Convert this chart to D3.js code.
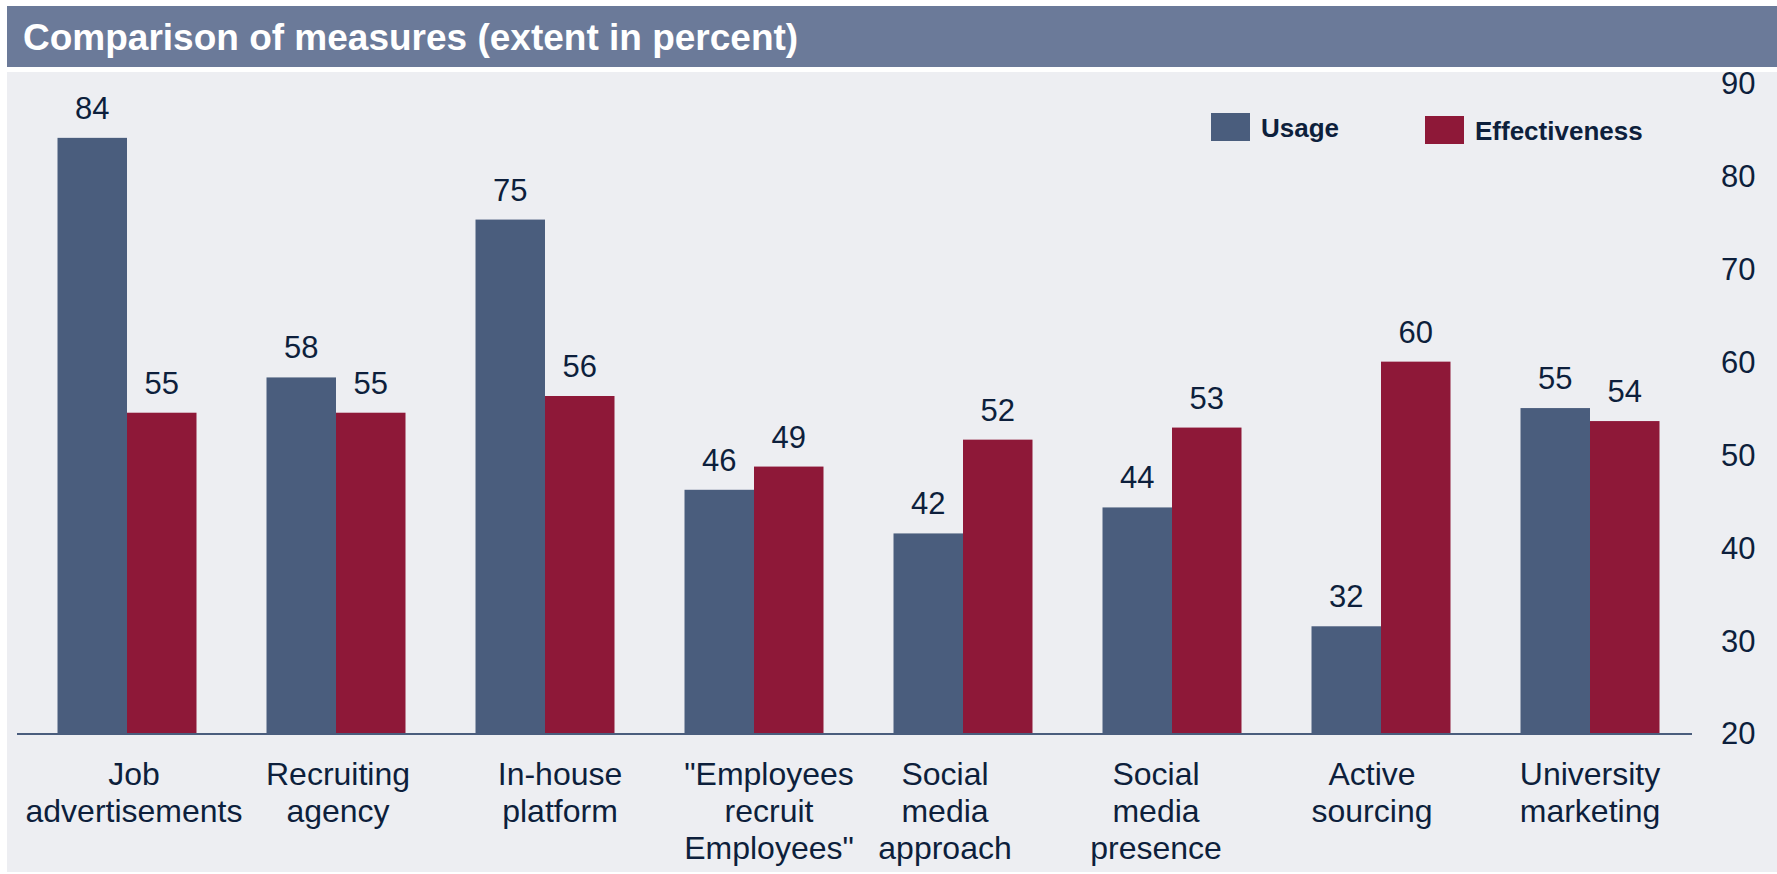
<!DOCTYPE html>
<html>
<head>
<meta charset="utf-8">
<script src="https://cdn.jsdelivr.net/npm/d3@7"></script>
<style>
  body { margin: 0; background: #fff; }
  svg text { font-family: "Liberation Sans", Arial, sans-serif; }
</style>
</head>
<body>
<div id="chart"></div>
<script>
// data
var categories = [
    ["Job", "advertisements"],
    ["Recruiting", "agency"],
    ["In-house", "platform"],
    ["\"Employees", "recruit", "Employees\""],
    ["Social", "media", "approach"],
    ["Social", "media", "presence"],
    ["Active", "sourcing"],
    ["University", "marketing"]
];
var usage = [84.2, 58.4, 75.4, 46.3, 41.6, 44.4, 31.6, 55.1];
var effectiveness = [54.6, 54.6, 56.4, 48.8, 51.7, 53.0, 60.1, 53.7];
var seriesNames = ["Usage", "Effectiveness"];
var yTicks = [20, 30, 40, 50, 60, 70, 80, 90];

// the category text boxes are not quite centred under their bars
var labelShift = [7, 2, 15, 15, -18, -16, -9, 0];

// size and colours
var w = 1777;
var h = 874;
var colors = { "Usage": "#4a5d7d", "Effectiveness": "#8e1838" };
var textColor = "#0d1f3c";

var svg = d3.select("#chart")
    .append("svg")
    .attr("width", w)
    .attr("height", h);

// title bar
svg.append("rect")
    .attr("x", 7).attr("y", 6)
    .attr("width", w - 7).attr("height", 61)
    .attr("fill", "#6b7a99");

svg.append("text")
    .attr("x", 23).attr("y", 50)
    .attr("fill", "#fff")
    .style("font-weight", "bold")
    .style("font-size", "37px")
    .text("Comparison of measures (extent in percent)");

// plot background
svg.append("rect")
    .attr("x", 7).attr("y", 72)
    .attr("width", w - 7).attr("height", h - 74)
    .attr("fill", "#edeef2");

// scales
var x0 = d3.scaleBand()
    .domain(d3.range(categories.length))
    .range([22.5, 1694.5])
    .paddingInner(0.335)
    .paddingOuter(0.1675);

var x1 = d3.scaleBand()
    .domain(seriesNames)
    .range([0, x0.bandwidth()]);

var y = d3.scaleLinear()
    .domain([20, 90])
    .range([734, 84]);

var rows = categories.map(function(c, i) {
    return { i: i, values: [
        { key: "Usage", value: usage[i] },
        { key: "Effectiveness", value: effectiveness[i] }
    ] };
});

// bars
var groups = svg.selectAll("g.group")
    .data(rows)
    .enter()
    .append("g")
    .attr("class", "group")
    .attr("transform", d => `translate(${x0(d.i)},0)`);

groups.selectAll("rect")
    .data(d => d.values)
    .enter()
    .append("rect")
    .attr("x", d => x1(d.key))
    .attr("y", d => y(d.value))
    .attr("width", x1.bandwidth())
    .attr("height", d => y(20) - y(d.value))
    .attr("fill", d => colors[d.key]);

// value labels
groups.selectAll("text.val")
    .data(d => d.values)
    .enter()
    .append("text")
    .attr("class", "val")
    .attr("x", d => x1(d.key) + x1.bandwidth() / 2)
    .attr("y", d => y(d.value) - 19)
    .attr("text-anchor", "middle")
    .attr("fill", textColor)
    .style("font-size", "31px")
    .text(d => d3.format(".0f")(d.value));

// baseline
svg.append("line")
    .attr("x1", 17).attr("x2", 1692)
    .attr("y1", y(20)).attr("y2", y(20))
    .attr("stroke", "#4a5d7d")
    .attr("stroke-width", 2);

// y axis on the right, no domain line or ticks
var yAxis = svg.append("g")
    .attr("transform", "translate(1721,0)")
    .call(d3.axisRight(y).tickValues(yTicks).tickSize(0).tickPadding(0));
yAxis.select(".domain").remove();
yAxis.selectAll("text")
    .attr("fill", textColor)
    .style("font-size", "31px")
    .style("font-family", "'Liberation Sans', Arial, sans-serif");

// category labels
var catLabels = svg.selectAll("text.cat")
    .data(categories)
    .enter()
    .append("text")
    .attr("class", "cat")
    .attr("text-anchor", "middle")
    .attr("fill", textColor)
    .style("font-size", "32px");

catLabels.selectAll("tspan")
    .data((d, i) => d.map(line => ({ line: line, i: i })))
    .enter()
    .append("tspan")
    .attr("x", d => x0(d.i) + x0.bandwidth() / 2 + labelShift[d.i])
    .attr("y", (d, j) => 785 + j * 37)
    .text(d => d.line);

// legend
var legendPos = [{ x: 1211, y: 113 }, { x: 1425, y: 116 }];
var legend = svg.selectAll("g.legend")
    .data(seriesNames)
    .enter()
    .append("g")
    .attr("class", "legend")
    .attr("transform", (d, i) => `translate(${legendPos[i].x},${legendPos[i].y})`);

legend.append("rect")
    .attr("width", 39)
    .attr("height", 28)
    .attr("fill", d => colors[d]);

legend.append("text")
    .attr("x", 50)
    .attr("y", 24)
    .attr("fill", textColor)
    .style("font-weight", "bold")
    .style("font-size", "26px")
    .text(d => d);
</script>
</body>
</html>
